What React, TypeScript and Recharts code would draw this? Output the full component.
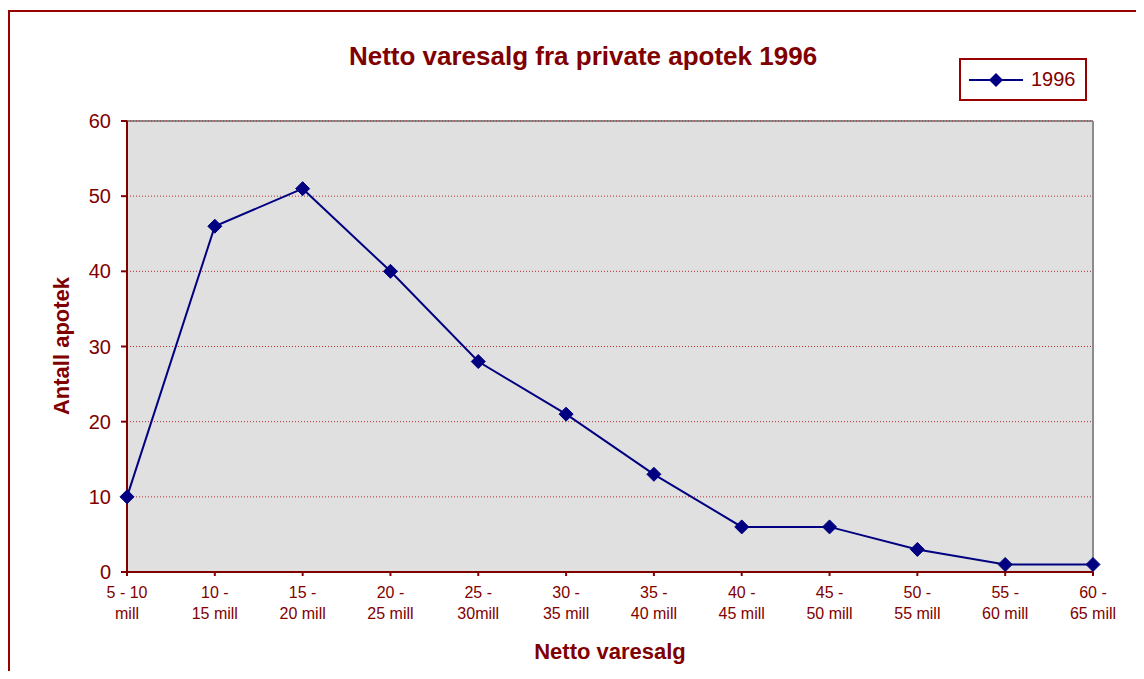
import { LineChart, Line, XAxis, YAxis, CartesianGrid, ReferenceLine } from 'recharts'

const CATEGORIES = [
    "5 - 10|mill",
    "10 -|15 mill",
    "15 -|20 mill",
    "20 -|25 mill",
    "25 -|30mill",
    "30 -|35 mill",
    "35 -|40 mill",
    "40 -|45 mill",
    "45 -|50 mill",
    "50 -|55 mill",
    "55 -|60 mill",
    "60 -|65 mill",
]
const APOTEK_1996 = [10, 46, 51, 40, 28, 21, 13, 6, 6, 3, 1, 1]
const Y_TICKS = [0, 10, 20, 30, 40, 50, 60]

const RED = "#800000"
const NAVY = "#000080"
const FONT = "'Liberation Sans', Arial, sans-serif"

const data = CATEGORIES.map((label, i) => ({ label, value: APOTEK_1996[i] }))

function Diamond(props: any) {
    const { cx, cy } = props
    if (cx == null || cy == null) return null
    const r = 7
    return (
        <polygon
            points={`${cx},${cy - r} ${cx + r},${cy} ${cx},${cy + r} ${cx - r},${cy}`}
            fill={NAVY}
            stroke={NAVY}
        />
    )
}

function XTick(props: any) {
    const { x, y, payload } = props
    const [a, b] = String(payload.value).split("|")
    return (
        <text x={x} y={y} textAnchor="middle" fill={RED} fontSize={16} fontFamily={FONT}>
            <tspan x={x} dy={20}>{a}</tspan>
            <tspan x={x} dy={21}>{b}</tspan>
        </text>
    )
}

export default function App() {
    return (
        <div style={{ position: 'relative', width: 1144, height: 679, margin: -8, overflow: 'hidden', background: '#fff' }}>
            <div style={{
                position: 'absolute', left: 8, top: 10, width: 1300, height: 800,
                borderLeft: `2px solid #990000`, borderTop: `2px solid #990000`,
            }} />
            <div style={{
                position: 'absolute', left: 0, width: 1166, top: 41, textAlign: 'center',
                color: RED, fontFamily: FONT, fontWeight: 'bold', fontSize: 26,
            }}>
                Netto varesalg fra private apotek 1996
            </div>
            <div style={{
                position: 'absolute', left: 127, width: 966, top: 639, textAlign: 'center',
                color: RED, fontFamily: FONT, fontWeight: 'bold', fontSize: 22,
            }}>
                Netto varesalg
            </div>
            <div style={{
                position: 'absolute', left: 62, top: 346, transform: 'translate(-50%, -50%) rotate(-90deg)',
                whiteSpace: 'nowrap', color: RED, fontFamily: FONT, fontWeight: 'bold', fontSize: 22,
            }}>
                Antall apotek
            </div>
            <div style={{
                position: 'absolute', left: 959, top: 58, width: 124, height: 39,
                border: `2px solid #990000`, display: 'flex', alignItems: 'center',
                fontFamily: FONT, color: RED, fontSize: 20,
            }}>
                <svg width={60} height={20} style={{ marginLeft: 8 }}>
                    <line x1={0} y1={10} x2={54} y2={10} stroke={NAVY} strokeWidth={2} />
                    <polygon points="27,3 34,10 27,17 20,10" fill={NAVY} />
                </svg>
                <span style={{ marginLeft: 2 }}>1996</span>
            </div>
            <div style={{ position: 'absolute', left: 0, top: 0 }}>
                <LineChart
                    width={1144}
                    height={679}
                    data={data}
                    margin={{ top: 121, right: 51, bottom: 47, left: 67 }}
                >
                    <CartesianGrid
                        horizontal={true}
                        vertical={false}
                        fill="#e0e0e0"
                        stroke="#b03030"
                        strokeDasharray="1 2"
                        strokeWidth={1}
                    />
                    <ReferenceLine y={60} stroke="#8c8c8c" strokeWidth={2} />
                    <ReferenceLine x={CATEGORIES[CATEGORIES.length - 1]} stroke="#8c8c8c" strokeWidth={2} />
                    <ReferenceLine y={60} stroke="#b03030" strokeDasharray="1 2" strokeWidth={1} />
                    <XAxis
                        dataKey="label"
                        height={60}
                        interval={0}
                        axisLine={{ stroke: RED, strokeWidth: 2 }}
                        tickLine={{ stroke: RED, strokeWidth: 2 }}
                        tickSize={4}
                        tick={<XTick />}
                    />
                    <YAxis
                        width={60}
                        domain={[0, 60]}
                        ticks={Y_TICKS}
                        interval={0}
                        axisLine={{ stroke: RED, strokeWidth: 2 }}
                        tickLine={{ stroke: RED, strokeWidth: 2 }}
                        tickSize={6}
                        tickMargin={10}
                        tick={{ fill: RED, fontSize: 20, fontFamily: FONT }}
                    />
                    <Line
                        type="linear"
                        dataKey="value"
                        stroke={NAVY}
                        strokeWidth={2}
                        dot={<Diamond />}
                        activeDot={false}
                        isAnimationActive={false}
                    />
                </LineChart>
            </div>
        </div>
    )
}
